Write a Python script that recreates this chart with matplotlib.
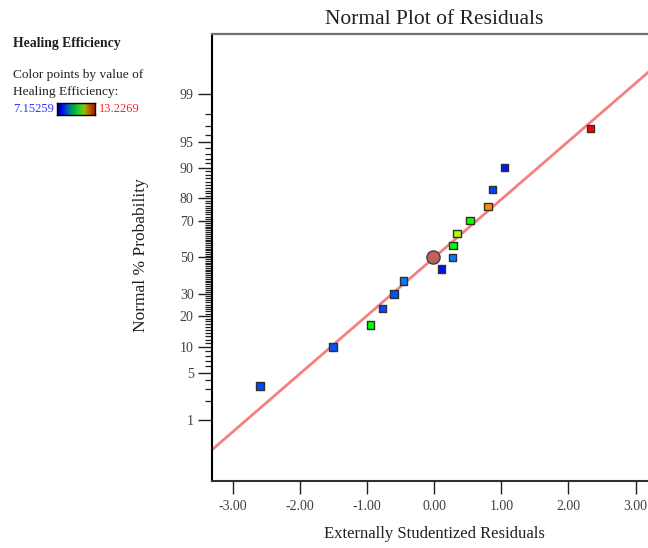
import numpy as np
import matplotlib
matplotlib.use("Agg")
import matplotlib.pyplot as plt
from matplotlib.colors import LinearSegmentedColormap, Normalize
from statistics import NormalDist

plt.rcParams['font.family'] = ['Liberation Serif', 'DejaVu Serif']

# ---------------- data ----------------
residuals = [-2.60, -1.51, -0.95, -0.77, -0.60, -0.46, 0.11, 0.27, 0.28, 0.34, 0.53, 0.80, 0.87, 1.05, 2.33]
probability = [3.3, 10.0, 16.7, 23.3, 30.0, 36.7, 43.3, 50.0, 56.7, 63.3, 70.0, 76.7, 83.3, 90.0, 96.7]
efficiency = [7.85, 7.95, 9.9, 7.85, 7.95, 8.35, 7.3, 8.35, 9.85, 10.8, 9.95, 12.1, 7.8, 7.35, 13.2269]
highlight_x = [-0.02]
highlight_p = [50.0]
fit_slope = 0.829       # z per residual unit
fit_intercept = 0.0
eff_min, eff_max = 7.15259, 13.2269

major_ticks = [1, 5, 10, 20, 30, 50, 70, 80, 90, 95, 99]
minor_ticks = [v for v in range(1, 100) if v not in major_ticks]
x_ticks = [-3, -2, -1, 0, 1, 2, 3]

# ---------------- scale ----------------
nd = NormalDist()
def fwd(p):
    p = np.clip(np.asarray(p, dtype=float) / 100.0, 1e-12, 1 - 1e-12)
    return np.vectorize(nd.inv_cdf)(p)
def inv(z):
    return np.vectorize(nd.cdf)(np.asarray(z, dtype=float)) * 100.0

pt_cmap = LinearSegmentedColormap.from_list('pts', [
    (0.0, '#0000ff'), (0.2, '#0080ff'), (0.45, '#00ff00'),
    (0.6, '#b0ff00'), (0.8, '#ff9900'), (1.0, '#ff0000')])
bar_cmap = LinearSegmentedColormap.from_list('bar', [
    (0.0, '#000070'), (0.12, '#0000ff'), (0.3, '#0070a0'), (0.45, '#00b040'),
    (0.6, '#30d030'), (0.72, '#90c000'), (0.85, '#c06000'), (1.0, '#a02000')])

fig = plt.figure(figsize=(6.48, 5.48), dpi=100)
ax = fig.add_axes([211.7/648, 1-480.7/548, (657-211.7)/648, (480.7-34)/548])
ax.set_yscale('function', functions=(fwd, inv))
ax.set_xlim(-3.32, 3.32)
ax.set_ylim(inv(-3.19), inv(3.19))

# fit line
lx = np.array([-3.5, 3.5])
ax.plot(lx, inv(fit_slope * lx + fit_intercept), color='#f48080', lw=2.0, zorder=2)

norm = Normalize(eff_min, eff_max)
ax.scatter(residuals, probability, marker='s', s=28, c=efficiency, cmap=pt_cmap, norm=norm,
           edgecolors='#303030', linewidths=1.0, zorder=3)
ax.scatter(highlight_x, highlight_p, marker='o', s=90, color='#c06060',
           edgecolors='#404040', linewidths=1.0, zorder=4)

ax.set_yticks(major_ticks)
ax.set_yticklabels([str(v) for v in major_ticks])
ax.set_yticks(minor_ticks, minor=True)
ax.yaxis.set_minor_formatter(matplotlib.ticker.NullFormatter())
ax.set_xticks(x_ticks)
ax.set_xticklabels([f"{v:.2f}" for v in x_ticks])
ax.tick_params(axis='y', which='major', length=10, width=1.0, pad=3, labelsize=10, colors='#202020')
ax.tick_params(axis='y', which='minor', length=5, width=0.9, colors='#202020')
ax.tick_params(axis='x', which='major', length=9, width=1.0, pad=5, labelsize=10, colors='#202020')
for lab in ax.get_xticklabels() + ax.get_yticklabels():
    lab.set_color('#404040')

ax.spines['left'].set_color('black'); ax.spines['left'].set_linewidth(1.5)
ax.spines['bottom'].set_color('#303030'); ax.spines['bottom'].set_linewidth(1.5)
ax.spines['top'].set_color('#707070'); ax.spines['top'].set_linewidth(1.6)
ax.spines['right'].set_visible(False)

fig.text(434/648, 1-20/548, 'Normal Plot of Residuals', ha='center', va='center', fontsize=15.5, color='#202020')
fig.text(434/648, 1-534/548, 'Externally Studentized Residuals', ha='center', va='center', fontsize=12, color='#202020')
fig.text(141/648, 1-255/548, 'Normal % Probability', ha='center', va='center', rotation=90, fontsize=12.5, color='#202020')

# left legend
fig.text(13/648, 1-43/548, 'Healing Efficiency', ha='left', va='center', fontsize=9.8, fontweight='bold', color='#202020')
fig.text(13/648, 1-75/548, 'Color points by value of', ha='left', va='center', fontsize=9.6, color='#202020')
fig.text(13/648, 1-92/548, 'Healing Efficiency:', ha='left', va='center', fontsize=9.6, color='#202020')
fig.text(13/648, 1-109/548, f'{eff_min}', ha='left', va='center', fontsize=9, color='#3030ff')
fig.text(99/648, 1-109/548, f'{eff_max}', ha='left', va='center', fontsize=9, color='#ff2020')
cax = fig.add_axes([57/648, 1-115/548, 38/648, 12/548])
cax.imshow(np.linspace(0, 1, 100)[None, :], aspect='auto', cmap=bar_cmap)
cax.set_xticks([]); cax.set_yticks([])
for s in cax.spines.values():
    s.set_color('black'); s.set_linewidth(1.0)

fig.savefig('out.png', dpi=100)
